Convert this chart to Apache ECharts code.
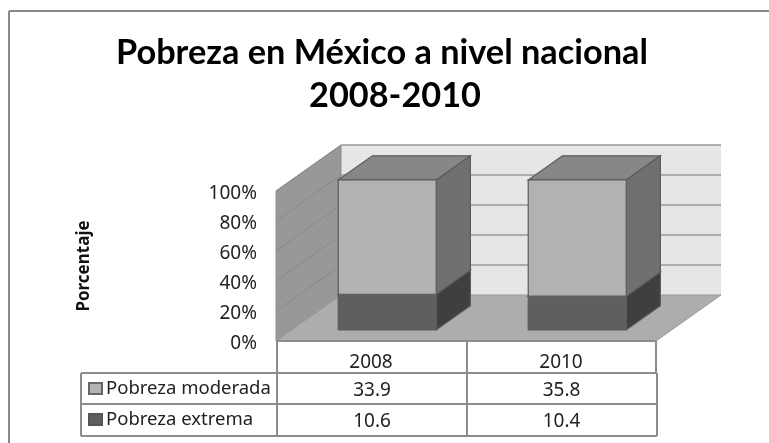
<!DOCTYPE html>
<html>
<head>
<meta charset="utf-8">
<style>html,body{margin:0;padding:0;background:#fff}#chart{width:769px;height:443px}</style>
<script src="https://cdn.jsdelivr.net/npm/echarts@6/dist/echarts.min.js"></script>
</head>
<body>
<div id="chart"></div>
<script>
const years = ['2008', '2010'];
const moderada = [33.9, 35.8];
const extrema = [10.6, 10.4];
const yTicks = [0, 20, 40, 60, 80, 100];

const FONT = '"Noto Sans"';
const TXT = 19;
// depth of the fake 3d box, in pixels
const DX = 65, DY = -46;

// 100% stack: each year is scaled to its own total
const extremaPct = years.map((y, i) => [i, 0, extrema[i] / (extrema[i] + moderada[i]) * 100]);
const moderadaPct = years.map((y, i) => [i, extrema[i] / (extrema[i] + moderada[i]) * 100, 100]);

function poly(points, fill, stroke, w) {
  return { type: 'polygon', shape: { points }, style: { fill, stroke: stroke || null, lineWidth: w || 0 } };
}

function renderWalls(params, api) {
  const c = params.coordSys;
  const x0 = c.x, x1 = c.x + c.width, yB = c.y + c.height, yT = c.y;
  const kids = [
    poly([[x0 + DX, yT + DY], [x1 + DX, yT + DY], [x1 + DX, yB + DY], [x0 + DX, yB + DY]], '#e6e6e6'),
    poly([[x0, yT], [x0 + DX, yT + DY], [x0 + DX, yB + DY], [x0, yB]], '#989898', '#8c8c8c', 1),
    poly([[x0, yB], [x0 + DX, yB + DY], [x1 + DX, yB + DY], [x1, yB]], '#adadad', '#999', 1)
  ];
  yTicks.forEach(t => {
    const y = api.coord([0, t])[1];
    if (t > 0) {
      kids.push({ type: 'line', shape: { x1: x0 + DX, y1: y + DY, x2: x1 + DX, y2: y + DY }, style: { stroke: '#999', lineWidth: 1.5 } });
      kids.push({ type: 'line', shape: { x1: x0, y1: y, x2: x0 + DX, y2: y + DY }, style: { stroke: '#8a8a8a', lineWidth: 1 } });
    }
  });
  return { type: 'group', children: kids };
}

function barRenderer(front, side, top) {
  return function (params, api) {
    const cat = api.value(0);
    const a = api.coord([cat, api.value(1)]);
    const b = api.coord([cat, api.value(2)]);
    const w = api.size([1, 0])[0] * 0.516;
    const l = a[0] + DX * 0.25 - w / 2, r = l + w;
    const yA = a[1] + DY * 0.24, yB = b[1] + DY * 0.24;
    const ox = DX * 0.525, oy = DY * 0.525;
    const line = '#5c5c5c';
    return {
      type: 'group',
      children: [
        poly([[l, yB], [l + ox, yB + oy], [r + ox, yB + oy], [r, yB]], top, line, 1.2),
        poly([[r, yB], [r + ox, yB + oy], [r + ox, yA + oy], [r, yA]], side, line, 1.2),
        poly([[l, yB], [r, yB], [r, yA], [l, yA]], front, line, 1.2)
      ]
    };
  };
}

// data table under the plot
const tblLeft = 81, colA = 277, colB = 467, colC = 656;
const tblTop = 341, row0 = 373, row1 = 404, row2 = 436;
const lineStyle = { stroke: '#8c8c8c', lineWidth: 2 };
function hv(x1, y1, x2, y2) {
  return { type: 'line', shape: { x1, y1, x2, y2 }, style: lineStyle, z: 5 };
}
function cell(x, y, text) {
  return {
    type: 'text', x, y: y + 2, z: 6,
    style: { text, fill: '#222', font: TXT + 'px ' + FONT, textAlign: 'center', textVerticalAlign: 'middle' }
  };
}
const table = [
  hv(colA, tblTop, colC, tblTop), hv(tblLeft, row0, colC + 1, row0), hv(tblLeft, row1, colC + 1, row1), hv(tblLeft, row2, colC + 1, row2),
  hv(tblLeft, row0, tblLeft, row2), hv(colA, tblTop, colA, row2), hv(colB, tblTop, colB, row2), hv(colC, tblTop, colC, row0), hv(colC + 1, row0, colC + 1, row2),
  cell((colA + colB) / 2, (row0 + row1) / 2, moderada[0].toFixed(1)),
  cell((colB + colC) / 2, (row0 + row1) / 2, moderada[1].toFixed(1)),
  cell((colA + colB) / 2, (row1 + row2) / 2, extrema[0].toFixed(1)),
  cell((colB + colC) / 2, (row1 + row2) / 2, extrema[1].toFixed(1))
];

const titleStyle = { fontFamily: 'Lato', fontWeight: 'bold', fontSize: 34.3, color: '#000' };
const frameStyle = { stroke: '#888', lineWidth: 2 };

const chart = echarts.init(document.getElementById('chart'), null, { renderer: 'canvas' });
chart.setOption({
  animation: false,
  backgroundColor: '#fff',
  title: [
    { text: 'Pobreza en México a nivel nacional', left: 377, top: 31, textAlign: 'center', textStyle: titleStyle },
    { text: '2008-2010', left: 390, top: 74, textAlign: 'center', textStyle: titleStyle }
  ],
  legend: {
    data: ['Pobreza moderada', 'Pobreza extrema'],
    orient: 'vertical', left: 83, top: 374,
    itemWidth: 13, itemHeight: 11, itemGap: 12, selectedMode: false, icon: 'rect',
    textStyle: { fontFamily: FONT, fontSize: 18.5, color: '#222', padding: [0, 0, 0, -1] }
  },
  grid: { left: 276, width: 380, top: 191, height: 150 },
  xAxis: {
    type: 'category', data: years,
    axisLine: { show: false }, axisTick: { show: false },
    axisLabel: { margin: 12, fontFamily: FONT, fontSize: TXT, color: '#222' }
  },
  yAxis: {
    type: 'value', min: 0, max: 100, interval: 20,
    name: 'Porcentaje', nameLocation: 'middle', nameGap: 183, nameRotate: 90,
    nameTextStyle: { fontFamily: FONT, fontWeight: 'bold', fontSize: 17, color: '#111' },
    axisLine: { show: false }, axisTick: { show: false }, splitLine: { show: false },
    // small line box with top alignment pushes the labels a few px under the tick
    axisLabel: { margin: 19, verticalAlign: 'top', lineHeight: 6, fontFamily: FONT, fontSize: TXT, color: '#222', formatter: '{value}%' }
  },
  graphic: table.concat([
    { type: 'line', shape: { x1: 9, y1: 11, x2: 769, y2: 11 }, style: frameStyle, z: 7 },
    { type: 'line', shape: { x1: 9, y1: 11, x2: 9, y2: 443 }, style: frameStyle, z: 7 }
  ]),
  series: [
    { type: 'custom', name: 'walls', renderItem: renderWalls, data: [[0, 0]], encode: { x: 0, y: 1 }, clip: false, z: 1, silent: true },
    { type: 'custom', name: 'Pobreza extrema', renderItem: barRenderer('#5f5f5f', '#3f3f3f', '#5f5f5f'), data: extremaPct, encode: { x: 0, y: [1, 2] }, clip: false, z: 2, itemStyle: { color: '#5f5f5f', borderColor: '#555', borderWidth: 1.5 } },
    { type: 'custom', name: 'Pobreza moderada', renderItem: barRenderer('#b2b2b2', '#707070', '#878787'), data: moderadaPct, encode: { x: 0, y: [1, 2] }, clip: false, z: 3, itemStyle: { color: '#b2b2b2', borderColor: '#666', borderWidth: 1.5 } }
  ]
});
</script>
</body>
</html>
